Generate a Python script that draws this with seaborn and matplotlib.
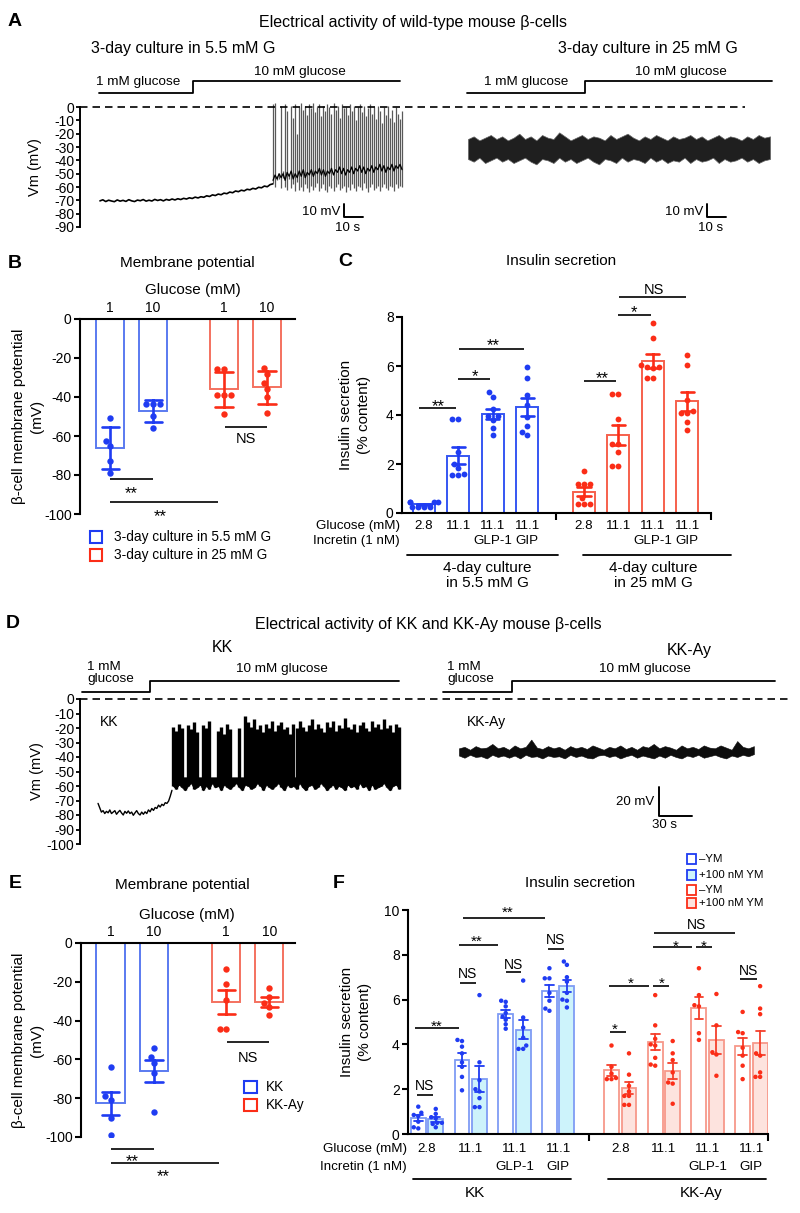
import warnings
import numpy as np
import pandas as pd
import seaborn as sns
import matplotlib.pyplot as plt
from matplotlib.lines import Line2D
from matplotlib.patches import Rectangle
from matplotlib.transforms import offset_copy, blended_transform_factory

warnings.filterwarnings("ignore")

# ---------------------------------------------------------------- data
# A: wild-type traces (Vm, mV). time in s from the y axis
a_pre = [-70.4, -69.6, -70.9, -69.9, -70.5, -71.0, -69.7, -70.6, -70.0, -70.8,
         -69.5, -70.4, -70.9, -69.8, -70.3, -69.4, -70.6, -69.9, -70.5, -69.3,
         -70.1, -69.5, -70.4, -69.3, -69.9, -69.0, -69.7, -68.8, -69.4, -68.5,
         -69.0, -68.1, -68.6, -67.6, -68.2, -67.3, -67.7, -66.6, -67.1, -65.9,
         -66.4, -65.3, -65.8, -64.6, -65.0, -63.8, -64.3, -63.0, -63.5, -62.4,
         -62.9, -61.7, -62.1, -61.0, -61.5, -60.2, -60.6, -59.3, -59.8, -58.2, -57.6]
a_spk_peak = [2, 3, -52, -50, 1, -48, 2, -3, -50, 1, -8, 2, -20,
              0, 3, -2, 1, -6, 2, -1, 3, -4, 0, 2, -7, 1,
              -3, 2, 0, -5, 3, -2, 1, -8, 2, -1, 0, -6, 2,
              -3, 1, -10, 0, 2, -4, 1, -7, -1, 2, -5, 0, -9,
              1, -3, -12, 0, -6, 1, -8, -2, -11, 0, -5, -9, -3]
a_spk_trough = [-57, -60, -55, -54, -61, -53, -60, -62, -54, -61, -58, -63, -56,
                -62, -60, -63, -58, -61, -64, -59, -62, -60, -57, -63, -61, -58,
                -62, -64, -59, -61, -63, -60, -58, -62, -61, -59, -64, -60, -62,
                -58, -61, -63, -59, -60, -62, -57, -61, -64, -60, -58, -62, -61,
                -59, -63, -60, -58, -61, -62, -59, -60, -63, -58, -61, -59, -60]
a_spk_base = [-55, -51, -54, -50, -53, -50, -55, -49, -52, -48, -54, -50, -53,
              -48, -52, -47, -53, -49, -51, -47, -52, -48, -50, -46, -51, -47,
              -52, -48, -50, -46, -51, -47, -49, -45, -50, -46, -51, -47, -49,
              -45, -50, -46, -48, -44, -49, -45, -50, -46, -48, -44, -49, -45,
              -47, -43, -48, -44, -49, -45, -47, -43, -48, -44, -46, -43, -47]
a25_hi = [-24, -22, -25, -23, -21, -24, -22, -25, -23,
          -20, -24, -22, -25, -21, -23, -24, -19, -22,
          -25, -23, -21, -24, -22, -23, -25, -21, -24,
          -22, -20, -23, -25, -22, -24, -21, -23, -25,
          -22, -24, -23, -21, -24, -22, -25, -23, -21,
          -24, -22, -23, -25, -22, -24, -21, -23, -22]
a25_lo = [-39, -41, -38, -42, -40, -38, -41, -39, -42,
          -40, -38, -41, -43, -39, -40, -42, -38, -41,
          -39, -42, -40, -38, -41, -43, -39, -40, -42,
          -38, -41, -39, -40, -42, -38, -41, -39, -42,
          -40, -41, -38, -42, -39, -41, -40, -38, -42,
          -39, -41, -40, -38, -41, -39, -42, -40, -39]

# D: KK / KK-Ay traces
kk_pre = [-72, -75, -78, -77, -79, -77.5, -78.5, -76.5, -79, -78,
          -77, -79.5, -78, -76.8, -78.6, -80, -77.5, -78.8, -77.2, -79,
          -78, -80.2, -78.5, -77, -79, -80, -78, -79.5, -77.8, -79,
          -76.5, -77.8, -75.5, -76.8, -74.8, -75.5, -73.2, -74.5, -72.6, -73.5,
          -71.5, -72, -70.4, -67, -63]
kk_peak = [-19, -22, -17, -20, -57, -18, -21, -16, -23, -57, -18, -20, -15,
           -57, -56, -22, -19, -24, -17, -21, -57, -56, -20, -57, -12,
           -16, -19, -14, -21, -18, -23, -17, -20, -15, -22, -18, -16, -21,
           -19, -24, -17, -20, -15, -19, -22, -18, -14, -21, -17, -20, -23,
           -16, -19, -15, -22, -18, -20, -13, -19, -21, -17, -23, -18, -16,
           -20, -22, -15, -19, -17, -21, -14, -20, -18, -23, -17, -19]
kk_trough = [-60, -62, -59, -61, -63, -60, -58, -62, -61, -59, -63, -60, -62, -58, -61, -60, -63, -59, -61,
             -62, -60, -58, -61, -63, -59, -60, -62, -61, -58, -60, -63, -59, -61, -62, -60, -58, -61, -63,
             -59, -61, -60, -62, -58, -61, -63, -60, -59, -62, -61, -58, -60, -63, -61, -59, -62, -60, -61,
             -63, -59, -61, -60, -62, -58, -61, -60, -63, -59, -62, -61, -60, -58, -61, -63, -60, -59, -62]
ay_hi = [-34, -33, -35, -32.5, -34, -33.5, -31, -34, -33,
         -35, -32, -34, -33, -28, -33.5, -34.5, -32.5, -34,
         -33, -35, -32.5, -34, -33, -34.5, -32, -33.5, -35,
         -33, -34, -32, -34.5, -33, -35, -32.5, -33.5, -31,
         -34, -32.5, -33.5, -35, -32, -34, -33, -34.5, -32,
         -33.5, -34, -32, -33.5, -35, -29, -33, -34, -32.5]
ay_lo = [-39, -40.5, -38.5, -40, -39.5, -41, -38.5, -40, -39,
         -40.5, -39, -41, -38.5, -40, -39.5, -41, -39, -40,
         -39.5, -41, -38.5, -40, -39, -40.5, -41, -39, -38.5,
         -40, -39, -41, -39.5, -38.5, -40.5, -39, -40, -41,
         -39, -40.5, -38.5, -40, -41, -39, -40, -38.5, -40.5,
         -39.5, -38.5, -40, -41, -39, -40, -38.5, -39.5, -38]

# B: membrane potential (mV), 3-day culture
b_55_g1 = [-51, -65, -62.5, -73, -79]
b_55_g10 = [-43.6, -43.6, -43.6, -49.6, -55.9]
b_25_g1 = [-25.6, -25.6, -39, -39, -39, -48.7]
b_25_g10 = [-25, -28, -33, -36, -40, -48]
glc_labels = ["1", "10", "1", "10"]

# C: insulin secretion (% content)
c55_28 = [0.45, 0.45, 0.44, 0.44, 0.26, 0.26, 0.25, 0.25]
c55_111 = [3.83, 3.83, 2.5, 2.0, 1.85, 1.6, 1.55, 1.55]
c55_glp = [4.93, 4.74, 4.25, 3.95, 3.95, 3.8, 3.45, 3.2]
c55_gip = [5.95, 5.5, 4.8, 4.4, 3.9, 3.55, 3.3, 3.2]
c25_28 = [1.73, 1.18, 1.18, 1.18, 0.6, 0.37, 0.37, 0.37]
c25_111 = [4.85, 4.85, 3.85, 2.8, 2.8, 2.5, 1.9, 1.9]
c25_glp = [7.75, 7.14, 6.05, 5.95, 5.95, 5.9, 5.5, 5.5]
c25_gip = [6.45, 6.05, 4.6, 4.15, 4.1, 4.1, 3.7, 3.4]
glucose_row = ["2.8", "11.1", "11.1", "11.1"]
incretin_row = ["", "", "GLP-1", "GIP"]

# E: membrane potential (mV), KK vs KK-Ay
e_kk_g1 = [-64, -79, -81, -90, -99]
e_kk_g10 = [-54, -59, -62, -67, -87]
e_ay_g1 = [-13.2, -21, -29.5, -44.5, -44.5]
e_ay_g10 = [-23, -28, -31, -33, -37]

# F: insulin secretion (% content), -YM / +100 nM YM
f_kk_28_m = [1.22, 0.95, 0.85, 0.8, 0.55, 0.3, 0.25]
f_kk_28_p = [1.12, 0.9, 0.75, 0.7, 0.5, 0.5, 0.45, 0.3]
f_kk_111_m = [4.2, 4.15, 3.9, 3.6, 3.2, 3.0, 2.55, 1.95]
f_kk_111_p = [6.2, 3.2, 2.4, 2.0, 1.9, 1.6, 1.2, 1.2]
f_kk_glp_m = [5.95, 5.9, 5.7, 5.4, 5.25, 5.1, 4.9, 4.7]
f_kk_glp_p = [6.85, 5.2, 4.75, 4.3, 3.95, 3.8, 3.8]
f_kk_gip_m = [7.4, 6.95, 6.95, 6.3, 5.95, 5.6, 5.5]
f_kk_gip_p = [7.7, 7.55, 7.0, 6.8, 6.3, 6.0, 5.95, 5.65]
f_ay_28_m = [3.95, 3.0, 2.7, 2.5, 2.45, 2.45]
f_ay_28_p = [3.6, 2.65, 2.15, 1.9, 1.7, 1.7, 1.3, 1.3]
f_ay_111_m = [6.2, 4.85, 4.25, 4.0, 3.95, 3.4, 3.1, 3.05]
f_ay_111_p = [4.15, 3.6, 3.3, 2.75, 2.3, 2.25, 1.35]
f_ay_glp_m = [7.4, 6.2, 5.75, 5.7, 4.5, 4.2]
f_ay_glp_p = [6.25, 4.85, 3.65, 3.55, 2.6]
f_ay_gip_m = [5.45, 4.55, 4.5, 3.85, 3.5, 3.05, 2.45]
f_ay_gip_p = [6.6, 5.6, 5.35, 3.6, 3.5, 2.75, 2.55, 2.55]
ym_levels = ["-YM", "+YM"]

# ---------------------------------------------------------------- style
BLUE_DOT, BLUE_BAR, BLUE_C = "#1f3cf2", "#5a7af0", "#3556f2"
RED_DOT, RED_BAR, RED_C = "#fb2d17", "#f4715f", "#f6604c"
F_BLUE_EDGE, F_CYAN = "#7f9cf4", "#cdf3fb"
F_RED_EDGE, F_PINK, F_RED_ERR = "#f7988a", "#fde3de", "#f5402c"

sns.set_style("ticks", rc={"axes.edgecolor": "black", "text.color": "black",
                           "xtick.color": "black", "ytick.color": "black"})
plt.rcParams["font.family"] = ["Liberation Sans", "DejaVu Sans"]
plt.rcParams["axes.unicode_minus"] = False
plt.rcParams["axes.linewidth"] = 1.5

W, H = 800, 1213
fig = plt.figure(figsize=(W / 100, H / 100), dpi=100)


def fx(x):
    return x / W


def fy(y):
    return 1 - y / H


def px_axes(x0, y0, x1, y1):
    ax = fig.add_axes([fx(x0), fy(y1), (x1 - x0) / W, (y1 - y0) / H])
    ax.patch.set_alpha(0)
    return ax


def ftext(x, y, s, size=10, **kw):
    kw.setdefault("ha", "center")
    kw.setdefault("va", "center")
    fig.text(fx(x), fy(y), s, fontsize=size, **kw)


def fline(xs, ys, lw=1.3):
    fig.add_artist(Line2D([fx(v) for v in xs], [fy(v) for v in ys],
                          transform=fig.transFigure, color="black", lw=lw))


def key(x, y, edge, face, w=13, h=12, lw=1.5):
    fig.add_artist(Rectangle((fx(x - w / 2), fy(y + h / 2)), w / W, h / H,
                             transform=fig.transFigure, edgecolor=edge,
                             facecolor=face, lw=lw))


def sig(ax, x0, x1, y, label, dy, xt=None, fs=None):
    ax.plot([x0, x1], [y, y], color="black", lw=1.2, clip_on=False,
            solid_capstyle="butt")
    xt = (x0 + x1) / 2 if xt is None else xt
    star = "*" in label
    fs = fs or (12 if star else 10.5)
    c = 8.5 if star else 5.2
    tr = offset_copy(ax.transData, fig=fig, x=0, y=-(dy + c), units="dots")
    ax.text(xt, y, label, transform=tr, ha="center", va="baseline",
            fontsize=fs, clip_on=False)


def trace_axes(y0, y1, ymin, ymax, xmax):
    ax = px_axes(80, y0, 790, y1)
    ax.set_xlim(0, xmax)
    ax.set_ylim(ymin, ymax)
    for s in ["top", "right", "bottom"]:
        ax.spines[s].set_visible(False)
    ax.spines["left"].set_bounds(ymin, 0)
    ax.spines["left"].set_linewidth(1.4)
    ax.set_xticks([])
    ticks = list(range(0, ymin - 1, -10))
    ax.set_yticks(ticks)
    ax.set_yticklabels([str(t) for t in ticks])
    ax.tick_params(axis="y", length=3, width=1.3, labelsize=10, pad=1)
    return ax


def long_df(vals, pos, grp):
    return pd.DataFrame([(p, v, g) for p, g, vv in zip(pos, grp, vals) for v in vv],
                        columns=["pos", "val", "grp"])


def bar_swarm(ax, d, edge, dot, errorbar, width, capsize, size, bar_lw=1.4, err_lw=1.9):
    sns.barplot(data=d, x="pos", y="val", orient="x", native_scale=True,
                errorbar=errorbar, capsize=capsize, width=width, color="white",
                saturation=1, edgecolor=edge, linewidth=bar_lw,
                err_kws={"color": dot, "linewidth": err_lw}, ax=ax)
    sns.swarmplot(data=d, x="pos", y="val", orient="x", native_scale=True,
                  color=dot, size=size, linewidth=0, ax=ax)


def membrane_axes(ax, pos, xlim):
    ax.set(xlim=xlim, ylim=(-100, 0), xlabel="", ylabel="")
    ax.set_yticks([0, -20, -40, -60, -80, -100])
    ax.set_yticklabels(["0", "-20", "-40", "-60", "-80", "-100"])
    ax.spines["right"].set_visible(False)
    ax.spines["bottom"].set_visible(False)
    ax.xaxis.set_ticks_position("top")
    ax.set_xticks(pos)
    ax.set_xticklabels(glc_labels)
    ax.tick_params(axis="x", length=0, pad=3, labelsize=10)
    ax.tick_params(axis="y", length=4.5, width=1.5, labelsize=10, pad=1.5)


def insulin_axes(ax, xlim, ylim, yticks, mid):
    ax.set(xlim=xlim, ylim=ylim, xlabel="", ylabel="")
    ax.set_yticks(yticks)
    ax.set_yticklabels([str(t) for t in yticks])
    ax.set_xticks([mid, xlim[1]])
    ax.set_xticklabels(["", ""])
    ax.spines["right"].set_visible(False)
    ax.spines["top"].set_visible(False)
    ax.tick_params(axis="x", length=5, width=1.5)
    ax.tick_params(axis="y", length=4.5, width=1.5, labelsize=10, pad=1.5)


def row_labels(ax, pos, y_glc, y_inc, x_right):
    tr = blended_transform_factory(ax.transData, fig.transFigure)
    ftext(x_right, y_glc, "Glucose (mM)", 9.6, ha="right")
    ftext(x_right, y_inc, "Incretin (1 nM)", 9.6, ha="right")
    for p, g, inc in zip(pos, glucose_row * 2, incretin_row * 2):
        ax.text(p, fy(y_glc), g, transform=tr, ha="center", va="center", fontsize=9.6)
        ax.text(p, fy(y_inc), inc, transform=tr, ha="center", va="center", fontsize=9.6)


# ---------------------------------------------------------------- A
ax_a = trace_axes(73.7, 227, -90, 25, 373.7)
t = np.linspace(10.5, 101.6, len(a_pre))
ax_a.plot(t, a_pre, color="black", lw=1.2)
t = np.linspace(101.6, 169.5, len(a_spk_peak))
ax_a.vlines(t, a_spk_trough, a_spk_peak, color="0.35", lw=0.9)
ax_a.plot(t, a_spk_base, color="black", lw=0.9)
t = np.linspace(204.2, 363.2, len(a25_hi))
ax_a.fill_between(t, a25_lo, a25_hi, color="0.12", lw=0.5, edgecolor="0.4")
ax_a.plot([0, 350], [0, 0], color="black", lw=1.2, ls=(0, (4.5, 3)))
for t0 in [138.9, 330.0]:
    ax_a.plot([t0, t0, t0 + 10], [-72.5, -82.5, -82.5], color="black", lw=1.4)
fline([99, 193, 193, 400], [93, 93, 81, 81])
fline([467, 585, 585, 772], [93, 93, 81, 81])

ftext(15, 22, "A", 14, weight="bold")
ftext(413, 22, "Electrical activity of wild-type mouse β-cells", 11.5)
ftext(183.5, 48, "3-day culture in 5.5 mM G", 11.5)
ftext(647.5, 48, "3-day culture in 25 mM G", 11.5)
ftext(138.5, 82, "1 mM glucose", 9.7)
ftext(300, 72, "10 mM glucose", 9.7)
ftext(526.5, 82, "1 mM glucose", 9.7)
ftext(681, 72, "10 mM glucose", 9.7)
ftext(340, 212, "10 mV", 9.5, ha="right")
ftext(348, 228, "10 s", 9.5)
ftext(703, 212, "10 mV", 9.5, ha="right")
ftext(711, 228, "10 s", 9.5)
ftext(35, 167, "Vm (mV)", 10.5, rotation=90)

# ---------------------------------------------------------------- B
b_pos = [0, 1, 2.65, 3.65]
df_b = long_df([b_55_g1, b_55_g10, b_25_g1, b_25_g10], b_pos, ["5.5", "5.5", "25", "25"])
ax_b = px_axes(80, 319, 295, 514)
bar_swarm(ax_b, df_b[df_b.grp == "5.5"], BLUE_BAR, BLUE_DOT, "sd", 0.65, 0.4, 4.6)
bar_swarm(ax_b, df_b[df_b.grp == "25"], RED_BAR, RED_DOT, "sd", 0.65, 0.4, 4.6)
membrane_axes(ax_b, b_pos, (-0.7, 4.3))
sig(ax_b, 2.67, 3.65, -55.5, "NS", 11)
sig(ax_b, 0, 1, -82, "**", 11)
sig(ax_b, 0, 2.5, -94, "**", 10, xt=1.16)

ftext(15, 263, "B", 14, weight="bold")
ftext(187, 263, "Membrane potential", 11)
ftext(193, 290, "Glucose (mM)", 11)
ftext(28, 416, "β-cell membrane potential\n(mV)", 11, rotation=90, linespacing=1.3)
key(96, 537, BLUE_DOT, "white")
key(96, 555, RED_DOT, "white")
ftext(114, 537, "3-day culture in 5.5 mM G", 9.8, ha="left")
ftext(114, 555, "3-day culture in 25 mM G", 9.8, ha="left")

# ---------------------------------------------------------------- C
c_pos = [0, 1, 2, 3, 4.65, 5.65, 6.65, 7.65]
df_c = long_df([c55_28, c55_111, c55_glp, c55_gip, c25_28, c25_111, c25_glp, c25_gip],
               c_pos, ["5.5"] * 4 + ["25"] * 4)
ax_c = px_axes(402, 317, 711, 513)
bar_swarm(ax_c, df_c[df_c.grp == "5.5"], BLUE_C, BLUE_DOT, "se", 0.64, 0.38, 4.2)
bar_swarm(ax_c, df_c[df_c.grp == "25"], RED_C, RED_DOT, "se", 0.64, 0.38, 4.2)
insulin_axes(ax_c, (-0.64, 8.34), (0, 8), [0, 2, 4, 6, 8], 3.825)
sig(ax_c, -0.145, 0.93, 4.28, "**", -6, xt=0.41)
sig(ax_c, 0.99, 1.92, 5.47, "*", -6, xt=1.48)
sig(ax_c, 1.02, 2.91, 6.7, "**", -7, xt=2.0)
sig(ax_c, 4.65, 5.58, 5.4, "**", -6, xt=5.17)
sig(ax_c, 5.64, 6.6, 8.1, "*", -6, xt=6.1)
sig(ax_c, 5.67, 7.62, 8.8, "NS", -9, xt=6.69)
row_labels(ax_c, c_pos, 526, 541, 400)
fline([407, 558], [555, 555])
fline([583, 731], [555, 555])

ftext(345, 261, "C", 14, weight="bold")
ftext(561, 261, "Insulin secretion", 11)
ftext(355, 415, "Insulin secretion\n(% content)", 11, rotation=90, linespacing=1.3)
ftext(487, 575.5, "4-day culture\nin 5.5 mM G", 11, linespacing=1.05)
ftext(653, 575.5, "4-day culture\nin 25 mM G", 11, linespacing=1.05)

# ---------------------------------------------------------------- D
ax_d = trace_axes(662.75, 844, -100, 25, 645.5)
t = np.linspace(16.4, 83.6, len(kk_pre))
ax_d.plot(t, kk_pre, color="black", lw=1.0)
t = np.linspace(84.5, 290, len(kk_peak))
ax_d.fill_between(t, kk_trough, -54, color="black", lw=0.5)
ax_d.vlines(t, kk_trough, kk_peak, color="black", lw=2.4)
t = np.linspace(344.5, 612.7, len(ay_hi))
ax_d.fill_between(t, ay_lo, ay_hi, color="0.05", lw=0.4)
ax_d.plot([0, 643.6], [0, 0], color="black", lw=1.2, ls=(0, (4.5, 3)))
ax_d.plot([526.4, 526.4, 556.4], [-60.7, -80.7, -80.7], color="black", lw=1.4)
fline([82, 150, 150, 399], [692, 692, 681, 681])
fline([443, 512, 512, 775], [692, 692, 681, 681])

ftext(13, 623, "D", 14, weight="bold")
ftext(428, 625, "Electrical activity of KK and KK-Ay mouse β-cells", 11.5)
ftext(222, 648, "KK", 11.5)
ftext(689, 650, "KK-Ay", 11.5)
ftext(87, 673, "1 mM\nglucose", 9.7, ha="left", linespacing=0.95)
ftext(447, 673, "1 mM\nglucose", 9.7, ha="left", linespacing=0.95)
ftext(282, 669, "10 mM glucose", 9.7)
ftext(645, 669, "10 mM glucose", 9.7)
ftext(100, 722, "KK", 10, ha="left")
ftext(467, 722, "KK-Ay", 10, ha="left")
ftext(654, 802, "20 mV", 9.5, ha="right")
ftext(665, 825, "30 s", 9.5)
ftext(37, 771, "Vm (mV)", 10.5, rotation=90)

# ---------------------------------------------------------------- E
e_pos = [0, 1, 2.66, 3.65]
df_e = long_df([e_kk_g1, e_kk_g10, e_ay_g1, e_ay_g10], e_pos, ["KK", "KK", "Ay", "Ay"])
ax_e = px_axes(81, 943, 295, 1137)
bar_swarm(ax_e, df_e[df_e.grp == "KK"], BLUE_BAR, BLUE_DOT, "se", 0.65, 0.4, 4.6)
bar_swarm(ax_e, df_e[df_e.grp == "Ay"], RED_BAR, RED_DOT, "se", 0.65, 0.4, 4.6)
membrane_axes(ax_e, e_pos, (-0.68, 4.24))
sig(ax_e, 2.67, 3.65, -51, "NS", 15)
sig(ax_e, 0, 1, -106, "**", 9)
sig(ax_e, 0, 2.5, -113.5, "**", 9, xt=1.2)

ftext(15, 883, "E", 14, weight="bold")
ftext(182, 885, "Membrane potential", 11)
ftext(187, 915, "Glucose (mM)", 11)
ftext(28, 1040, "β-cell membrane potential\n(mV)", 11, rotation=90, linespacing=1.3)
key(250, 1087, BLUE_DOT, "white")
key(250, 1105, RED_DOT, "white")
ftext(266, 1087, "KK", 9.8, ha="left")
ftext(266, 1105, "KK-Ay", 9.8, ha="left")

# ---------------------------------------------------------------- F
f_pos = [0, 1, 2, 3, 4.42, 5.42, 6.42, 7.42]
f_sets = [("KK", [f_kk_28_m, f_kk_28_p, f_kk_111_m, f_kk_111_p,
                  f_kk_glp_m, f_kk_glp_p, f_kk_gip_m, f_kk_gip_p]),
          ("Ay", [f_ay_28_m, f_ay_28_p, f_ay_111_m, f_ay_111_p,
                  f_ay_glp_m, f_ay_glp_p, f_ay_gip_m, f_ay_gip_p])]
rows = []
for gi, (grp, sets) in enumerate(f_sets):
    for k, vals in enumerate(sets):
        for v in vals:
            rows.append((f_pos[gi * 4 + k // 2], v, grp, ym_levels[k % 2]))
df_f = pd.DataFrame(rows, columns=["pos", "val", "grp", "ym"])

ax_f = px_axes(408, 910, 768, 1134)
for grp, edge, fillc, dot, err in [("KK", F_BLUE_EDGE, F_CYAN, BLUE_DOT, BLUE_DOT),
                                   ("Ay", F_RED_EDGE, F_PINK, RED_DOT, F_RED_ERR)]:
    d = df_f[df_f.grp == grp]
    sns.barplot(data=d, x="pos", y="val", hue="ym", hue_order=ym_levels,
                palette={"-YM": "white", "+YM": fillc}, orient="x", native_scale=True,
                errorbar="se", capsize=0.4, width=0.8, gap=0.15, saturation=1,
                edgecolor=edge, linewidth=1.3, legend=False,
                err_kws={"color": err, "linewidth": 1.3}, ax=ax_f)
    sns.swarmplot(data=d, x="pos", y="val", hue="ym", hue_order=ym_levels,
                  palette={"-YM": dot, "+YM": dot}, dodge=True, orient="x",
                  native_scale=True, size=3.2, linewidth=0, legend=False, ax=ax_f)
insulin_axes(ax_f, (-0.435, 7.80), (0, 10), [0, 2, 4, 6, 8, 10], 3.71)
for x0, x1, y, lab, dy, xt in [
        (0.82, 2.70, 9.64, "**", -10, 1.85), (0.73, 1.62, 8.44, "**", -8, 1.14),
        (2.77, 3.13, 8.26, "NS", -10, 2.95), (1.81, 2.15, 7.23, "NS", -8, 1.97),
        (0.76, 1.12, 6.74, "NS", -10, 0.92), (-0.23, 0.14, 1.74, "NS", -10, -0.05),
        (-0.27, 0.73, 4.73, "**", -6, 0.23), (4.16, 5.08, 6.61, "*", -7, 4.65),
        (5.17, 5.54, 6.61, "*", -7, 5.38), (4.19, 4.55, 4.55, "*", -7, 4.30),
        (7.16, 7.55, 6.92, "NS", -9, 7.35), (5.19, 7.05, 8.97, "NS", -9, 6.16),
        (5.17, 6.06, 8.35, "*", -5, 5.68), (6.16, 6.52, 8.35, "*", -5, 6.34)]:
    sig(ax_f, x0, x1, y, lab, dy, xt=xt, fs=11 if "*" in lab else 10)
row_labels(ax_f, f_pos, 1149, 1167, 407)
fline([413, 571], [1179, 1179])
fline([608, 766], [1179, 1179])

ftext(339, 883, "F", 14, weight="bold")
ftext(580, 883, "Insulin secretion", 11)
ftext(356, 1022, "Insulin secretion\n(% content)", 11, rotation=90, linespacing=1.3)
ftext(475, 1193, "KK", 11)
ftext(701, 1193, "KK-Ay", 11)
for yk, edge, face, lab in [(859, BLUE_DOT, "white", "–YM"), (875, BLUE_DOT, F_CYAN, "+100 nM YM"),
                            (890, RED_DOT, "white", "–YM"), (903, RED_DOT, F_PINK, "+100 nM YM")]:
    key(691.5, yk, edge, face, w=9.5, h=9.5, lw=1.3)
    ftext(699, yk, lab, 8.2, ha="left")

fig.savefig("out.png", dpi=100)
